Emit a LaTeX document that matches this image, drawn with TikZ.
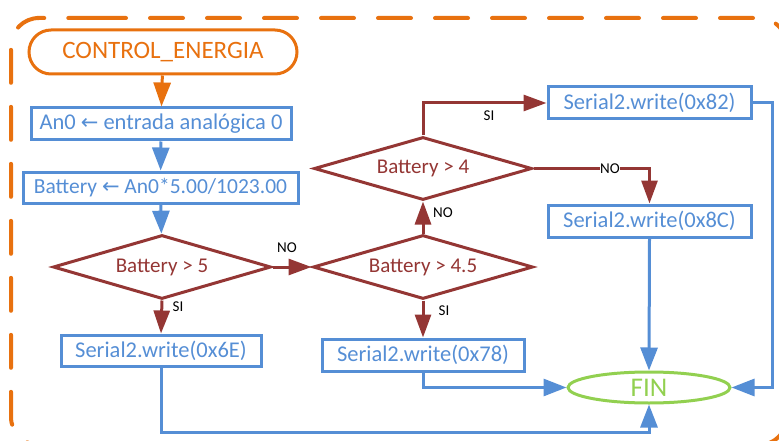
\documentclass[tikz,border=0pt]{standalone}
\usepackage{fontspec}
\setmainfont{Carlito}
\newfontfamily\dvfont{DejaVu Sans}
\usetikzlibrary{shapes.geometric,arrows.meta,calc}
\definecolor{cOr}{RGB}{232,113,15}
\definecolor{cBl}{RGB}{85,142,213}
\definecolor{cRd}{RGB}{148,54,52}
\definecolor{cGr}{RGB}{146,208,80}
\newcommand{\larr}{{\dvfont\fontsize{21}{23}\selectfont ←}}
\tikzset{
  box/.style={draw=cBl,line width=3pt,text=cBl,minimum height=32pt,inner sep=0pt,font=\fontsize{22.5}{25}\selectfont},
  dia/.style={draw=cRd,line width=3pt,text=cRd,diamond,aspect=3.4,inner sep=0pt,font=\fontsize{21}{24}\selectfont},
  blarrow/.style={draw=cBl,line width=3pt,-{Triangle[length=23pt,width=17pt]}},
  rdarrow/.style={draw=cRd,line width=3pt,-{Triangle[length=23pt,width=16pt]}},
  lbl/.style={font=\fontsize{15}{17}\selectfont,text=black,inner sep=1pt},
}
\begin{document}
\begin{tikzpicture}[x=1pt,y=-1pt]
\useasboundingbox (0,0) rectangle (779,441);
% dashed frame
\draw[cOr,line width=4pt,line cap=round,dash pattern=on 33pt off 24pt,rounded corners=28pt]
  (65,18) -- (787,18) -- (787,445) -- (11,445) -- (11,18) -- cycle;
% nodes
\node[draw=cOr,line width=3pt,text=cOr,rounded corners=22pt,minimum width=268pt,minimum height=44pt,inner sep=0pt,font=\fontsize{25}{28}\selectfont] (title) at (163,52) {CONTROL\_ENERGIA};
\node[box,minimum width=260pt] (b1) at (161,124) {An0 \larr{} entrada analógica 0};
\node[box,minimum width=275pt,minimum height=31pt,font=\fontsize{21.5}{24}\selectfont] (b2) at (160.5,187.5) {Battery \larr{} An0*5.00/1023.00};
\node[dia,minimum width=218pt,minimum height=64pt] (d1) at (162,267) {Battery > 5};
\node[dia,minimum width=220pt,minimum height=64pt] (d2) at (423,267) {Battery > 4.5};
\node[dia,minimum width=218pt,minimum height=63pt] (d3) at (423,168.5) {Battery > 4};
\node[box,minimum width=200pt,minimum height=31pt] (b3) at (161,350.5) {Serial2.write(0x6E)};
\node[box,minimum width=202pt] (b4) at (423,355) {Serial2.write(0x78)};
\node[box,minimum width=203pt] (b5) at (649.5,103) {Serial2.write(0x82)};
\node[box,minimum width=203pt] (b6) at (649.5,221) {Serial2.write(0x8C)};
\node[ellipse,draw=cGr,line width=3pt,text=cGr,minimum width=162pt,minimum height=31pt,inner sep=0pt,font=\fontsize{27}{30}\selectfont] (fin) at (649,387.5) {FIN};
\coordinate (lowy) at (0,432);
\coordinate (rightx) at (772,0);
% connectors
\draw[cOr,line width=3pt,-{Triangle[length=24pt,width=17pt]}] (title) -- (b1);
\draw[blarrow] (b1) -- (b2);
\draw[blarrow] (b2) -- (d1);
\draw[rdarrow] (d1.east) -- (d2.west);
\draw[rdarrow] (d1.south) -- (b3.north);
\draw[rdarrow] (d2.north) -- (d3.south);
\draw[rdarrow] (d2.south) -- (b4.north);
\draw[rdarrow] (d3.north) |- (b5.west);
\draw[rdarrow] (d3.east) -| (b6.north);
\draw[blarrow] (b6.south) -- (fin.north);
\draw[blarrow] (b4.south) |- (fin.west);
\draw[blarrow] (b5.east) -- (b5.east -| rightx) |- (fin.east);
\draw[blarrow] (b3.south) -- (b3.south |- lowy) -| (fin.south);
% labels
\node[lbl] (lno1) at (287,248) {NO};
\node[lbl] (lsi1) at (178,307) {SI};
\node[lbl] (lno2) at (443,213) {NO};
\node[lbl] (lsi2) at (444,311) {SI};
\node[lbl] (lsi3) at (489,116) {SI};
\node[lbl,fill=white,inner sep=0.5pt] (lno3) at (610,168.5) {NO};
\end{tikzpicture}
\end{document}
